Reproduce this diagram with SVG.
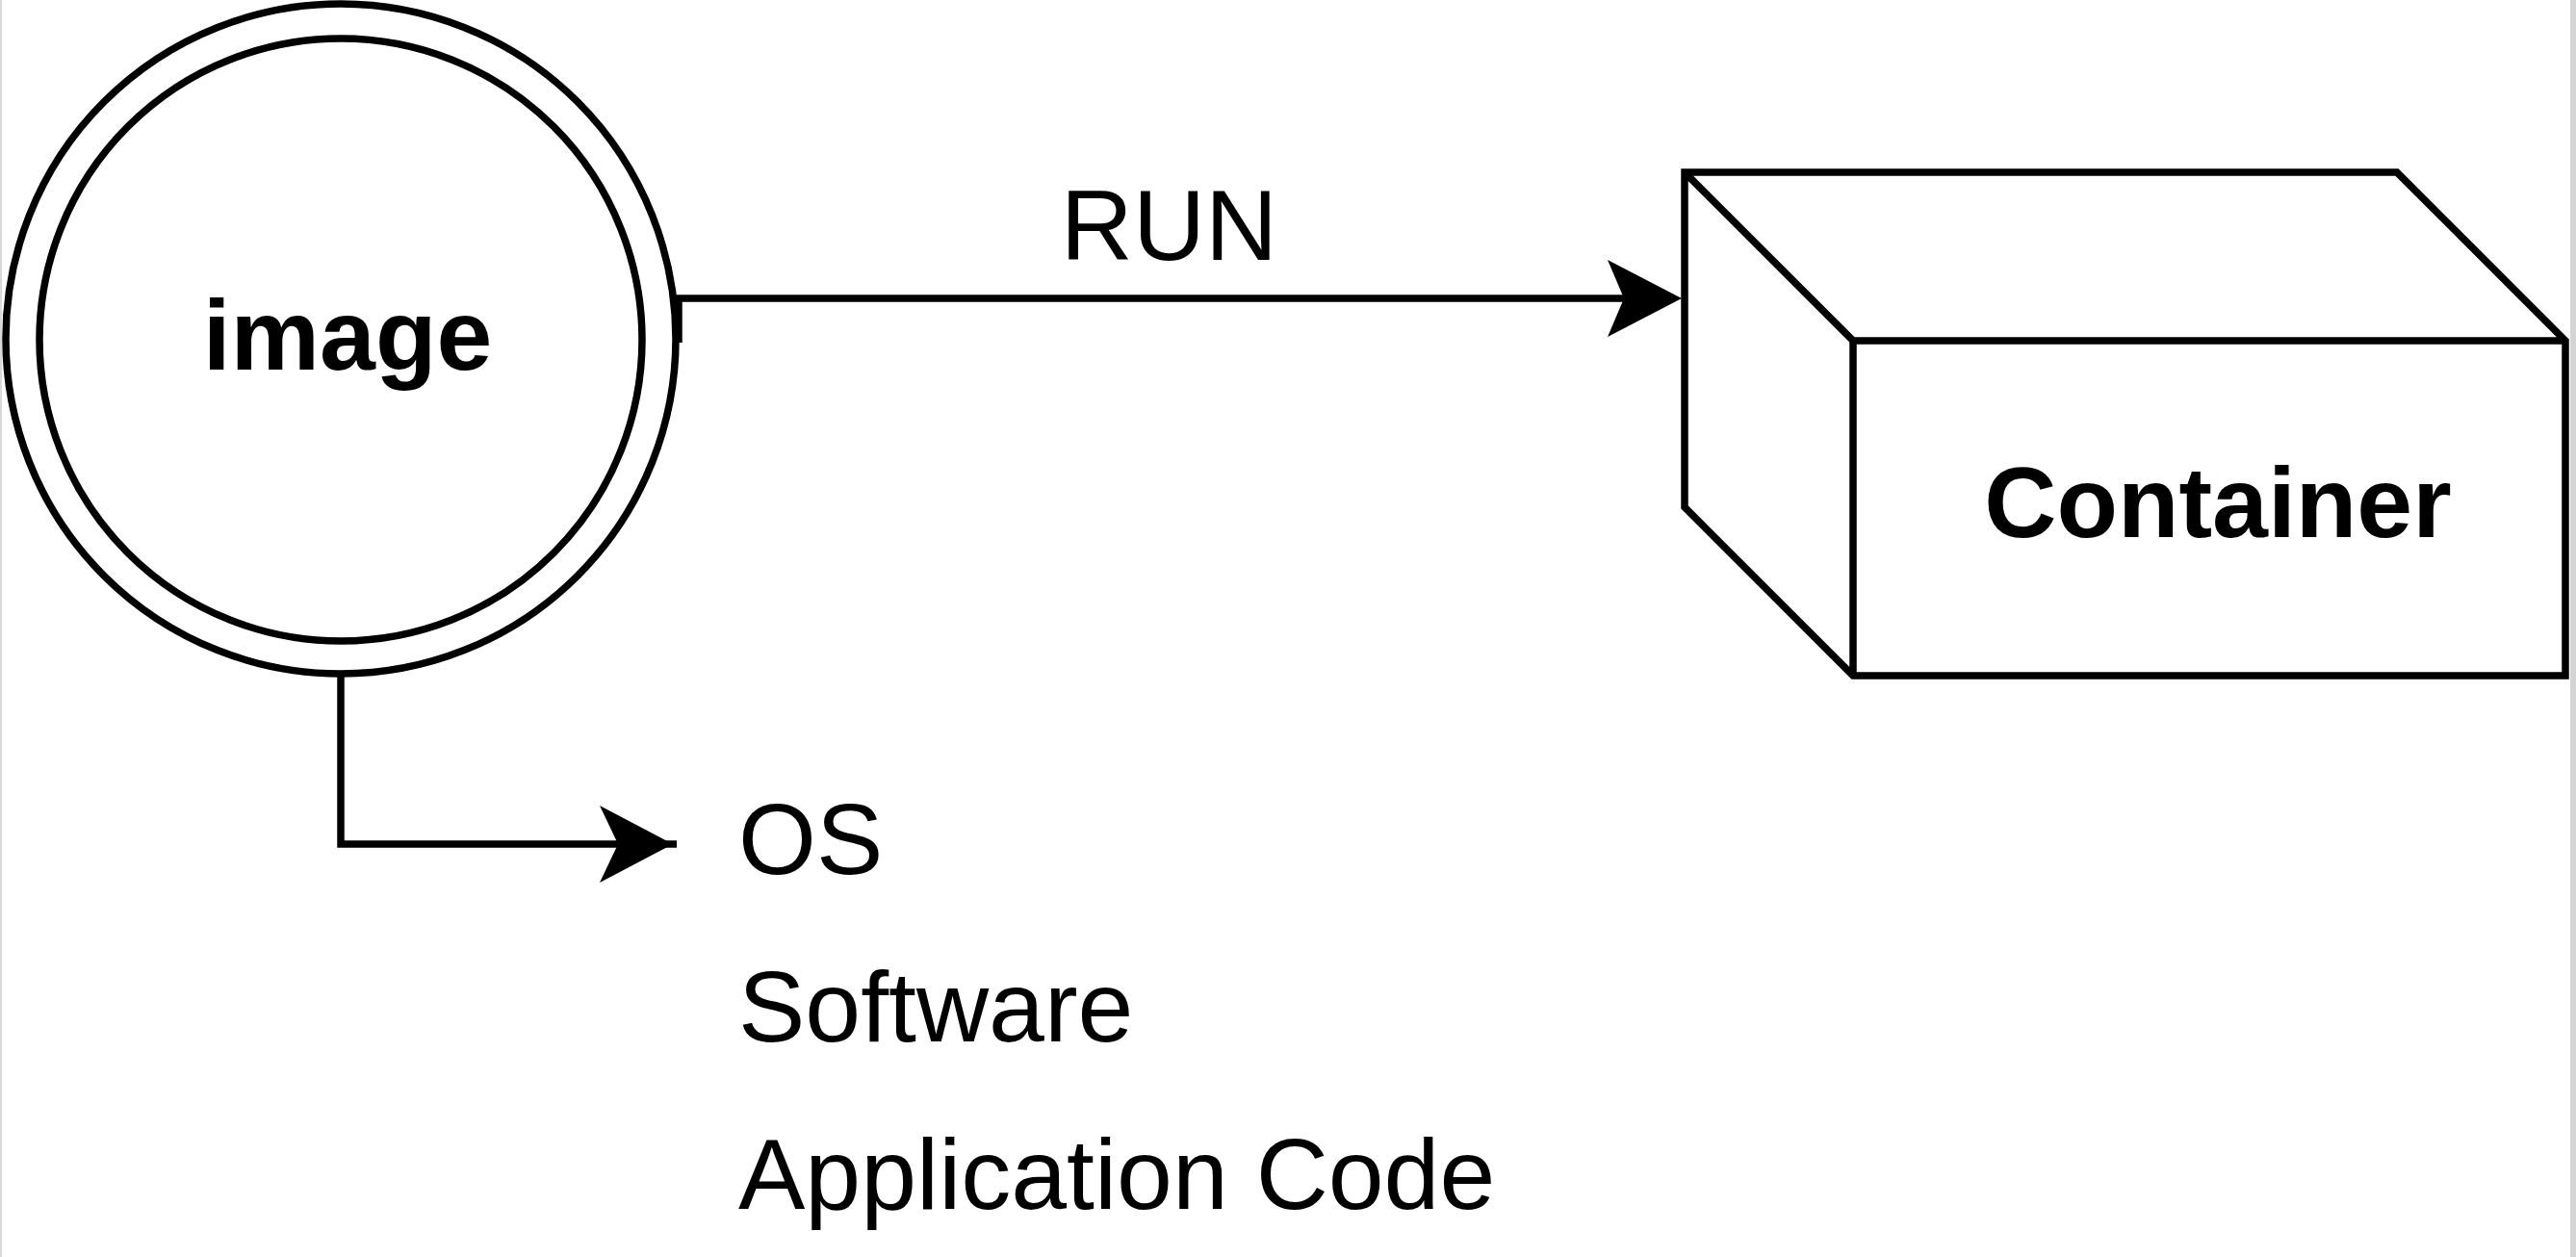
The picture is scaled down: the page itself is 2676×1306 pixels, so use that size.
<svg xmlns="http://www.w3.org/2000/svg" width="2676" height="1306" viewBox="0 0 2676 1306">
  <style>
    .shape { fill: #ffffff; stroke: #000000; stroke-width: 7.5; stroke-linejoin: miter; }
    .line { fill: none; stroke: #000000; stroke-width: 7.5; stroke-linejoin: miter; }
    .edge { fill: none; stroke: #000000; stroke-width: 7.5; stroke-linejoin: miter; }
    .head { fill: #000000; stroke: none; }
    .bold { font-family: "Liberation Sans", Arial, Helvetica, sans-serif; font-size: 104px; font-weight: bold; fill: #000000; text-anchor: middle; }
    .label { font-family: "Liberation Sans", Arial, Helvetica, sans-serif; font-size: 104px; fill: #000000; }
  </style>
  <rect x="0" y="0" width="2676" height="1306" fill="#ffffff"/>
  <rect x="0" y="0" width="2" height="1306" fill="#d9d9d9"/>
  <rect x="2670" y="0" width="6" height="1306" fill="#d4d4d4"/>

  <g id="connectors">
    <g id="edge-run">
      <path class="edge" d="M 705 356 L 705 310 L 1690 310"/>
      <polygon class="head" points="1670,270 1747,310 1670,350 1687,310"/>
      <text class="label" x="1214.5" y="270" text-anchor="middle">RUN</text>
    </g>
    <g id="edge-os">
      <path class="edge" d="M 354 701 L 354 877 L 703 877"/>
      <polygon class="head" points="623,837 699,877 623,917 642,877"/>
    </g>
  </g>

  <g id="node-image">
    <circle class="shape" cx="354" cy="352" r="348"/>
    <circle class="shape" cx="354" cy="353" r="313"/>
    <text class="bold" x="361" y="384">image</text>
  </g>

  <g id="node-container">
    <path class="shape" d="M 1750 179 L 2490 179 L 2665 354 L 2665 702 L 1925 702 L 1750 527 Z"/>
    <path class="line" d="M 1750 179 L 1925 354 L 2665 354 M 1925 354 L 1925 702"/>
    <text class="bold" x="2304" y="558">Container</text>
  </g>

  <g id="node-list">
    <text class="label" x="767" y="908">OS</text>
    <text class="label" x="767" y="1082">Software</text>
    <text class="label" x="767" y="1256">Application Code</text>
  </g>
</svg>
